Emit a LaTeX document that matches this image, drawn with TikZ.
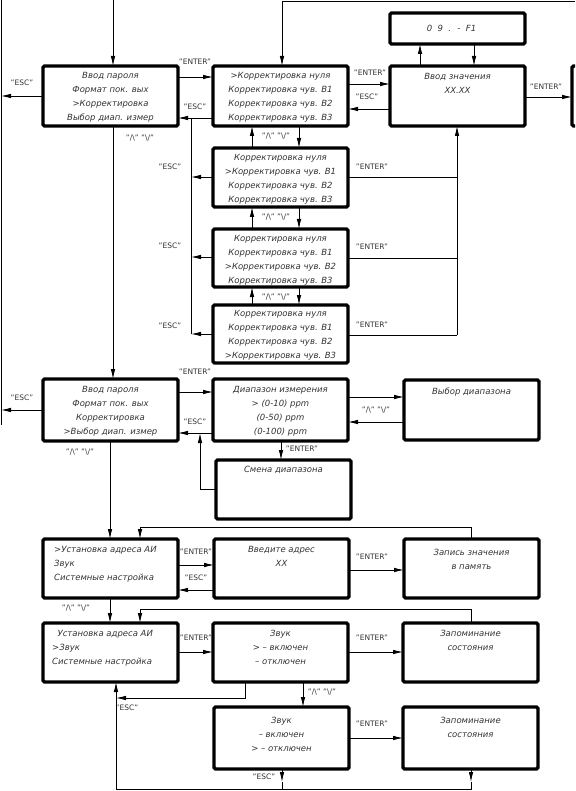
\documentclass[tikz,border=0pt]{standalone}
\usepackage{fontspec}
\setmainfont{DejaVu Sans}
\usetikzlibrary{arrows.meta}
\newcommand{\UDlbl}{"/\textbackslash" "\textbackslash/"}
\begin{document}
\begin{tikzpicture}[x=1pt,y=-1pt,
 box/.style={draw, line width=3.4pt, rounded corners=1.5pt, anchor=north west, inner sep=0pt, outer sep=0pt, minimum width=135pt, minimum height=60pt},
 txt/.style={font=\fontsize{8.5}{14}\selectfont\itshape, text=black!80, align=center, inner sep=0pt, anchor=north},
 ltxt/.style={txt, align=left, anchor=north west},
 lbl/.style={font=\fontsize{7.5}{9}\selectfont, text=black!80, inner sep=0pt},
 con/.style={line width=0.8pt},
 arr/.style={con, -{Latex[length=10pt,width=4.5pt]}},
]
\useasboundingbox (0,0) rectangle (575,791);
\clip (0,0) rectangle (575,791);
% ---------- boxes ----------
\node[box] (A) at (43,66) {};
\node[box] (B) at (213,66) {};
\node[box] (C) at (390,66) {};
\node[box, minimum height=31pt] (D) at (390,13) {};
\node[box, minimum width=40pt] (E) at (572,66) {};
\node[box, minimum height=59pt] (F) at (213,148) {};
\node[box, minimum height=58pt] (G) at (213,229) {};
\node[box, minimum height=58pt] (H) at (213,305) {};
\node[box, minimum height=62pt] (I) at (43,379) {};
\node[box, minimum height=62pt] (J) at (213,379) {};
\node[box] (K) at (404,380) {};
\node[box, minimum height=59pt] (L) at (216,460) {};
\node[box, minimum height=59pt] (M) at (43,539) {};
\node[box, minimum height=59pt] (N) at (214,539) {};
\node[box, minimum height=59pt] (O) at (404,539) {};
\node[box, minimum height=59pt] (P) at (43,623) {};
\node[box, minimum height=59pt] (Q) at (213,623) {};
\node[box, minimum height=59pt] (R) at (403,623) {};
\node[box, minimum height=62pt] (S) at (214,707) {};
\node[box, minimum height=62pt] (T) at (403,707) {};
% ---------- texts ----------
\node[txt] (At) at ([yshift=-6pt]A.north) {Ввод пароля\\Формат пок. вых\\>Корректировка\\Выбор диап. измер};
\node[txt] (Bt) at ([yshift=-6pt]B.north) {>Корректировка нуля\\Корректировка чув. В1\\Корректировка чув. В2\\Корректировка чув. В3};
\node[txt] (Ct) at ([yshift=-7pt]C.north) {Ввод значения\\XX.XX};
\node[txt, anchor=center] (Dt) at ([xshift=-6pt]D.center) {0 \ 9 \ . \ - \ F1};
\node[txt] (Ft) at ([yshift=-6pt]F.north) {Корректировка нуля\\>Корректировка чув. В1\\Корректировка чув. В2\\Корректировка чув. В3};
\node[txt] (Gt) at ([yshift=-6pt]G.north) {Корректировка нуля\\Корректировка чув. В1\\>Корректировка чув. В2\\Корректировка чув. В3};
\node[txt] (Ht) at ([yshift=-5pt]H.north) {Корректировка нуля\\Корректировка чув. В1\\Корректировка чув. В2\\>Корректировка чув. В3};
\node[txt] (It) at ([yshift=-7pt]I.north) {Ввод пароля\\Формат пок. вых\\Корректировка\\>Выбор диап. измер};
\node[txt] (Jt) at ([yshift=-7pt]J.north) {Диапазон измерения\\> (0-10) ppm\\(0-50) ppm\\(0-100) ppm};
\node[txt] (Kt) at ([yshift=-8pt]K.north) {Выбор диапазона};
\node[txt] (Lt) at ([yshift=-6pt]L.north) {Смена диапазона};
\node[ltxt] (Mt) at ([xshift=11pt,yshift=-7pt]M.north west) {>Установка адреса АИ\\Звук\\Системные настройка};
\node[txt] (Nt) at ([yshift=-7pt]N.north) {Введите адрес\\XX};
\node[txt] (Ot) at ([yshift=-10pt]O.north) {Запись значения\\в память};
\node[ltxt] (Pt) at ([xshift=9pt,yshift=-7pt]P.north west) {\ \ Установка адреса АИ\\>Звук\\ Системные настройка};
\node[txt] (Qt) at ([yshift=-7pt]Q.north) {Звук\\> – включен\\– отключен};
\node[txt] (Rt) at ([yshift=-7pt]R.north) {Запоминание\\состояния};
\node[txt] (St) at ([yshift=-10pt]S.north) {Звук\\– включен\\> – отключен};
\node[txt] (Tt) at ([yshift=-10pt]T.north) {Запоминание\\состояния};
% ---------- coordinates ----------
\coordinate (lbT) at (1,0);
\coordinate (lbB) at (1,425);
\coordinate (aT) at (113,0);
\coordinate (topR) at (575,1);
\coordinate (topB) at (282,1);
\coordinate (escT) at (191,118);
\coordinate (escB) at (191,334);
\coordinate (entT) at (457,127);
\coordinate (entB) at (457,335);
\coordinate (lRet) at (200,489);
\coordinate (oRet) at (471,527);
\coordinate (mRet) at (140,527);
\coordinate (rRet) at (471,609);
\coordinate (pRet) at (140,609);
\coordinate (qE) at (245,698);
\coordinate (pE) at (116,698);
\coordinate (bS) at (282,782);
\coordinate (bSe) at (282,789);
\coordinate (bT) at (471,782);
\coordinate (bTe) at (471,789);
\coordinate (bP) at (116,789);
% ---------- top section ----------
\draw[con] (lbT) -- (lbB);
\draw[arr] (A.west |- 0,96) -- (lbT |- 0,96);
\node[lbl] (l1) at (22,83) {"ESC"};
\draw[arr] (aT) -- (aT |- A.north);
\draw[arr] (topR) -- (topB) -- (topB |- B.north);
\draw[arr] (A.east |- 0,77) -- (B.west |- 0,77);
\node[lbl] (l2) at (195,62) {"ENTER"};
\draw[arr] (B.west |- 0,118) -- (A.east |- 0,118);
\node[lbl] (l3) at (195,107) {"ESC"};
\draw[con] (escT) -- (escB);
\draw[arr] (F.west |- 0,177) -- (escT |- 0,177);
\draw[arr] (G.west |- 0,257) -- (escT |- 0,257);
\draw[arr] (H.west |- 0,334) -- (escB);
\node[lbl] (l4) at (170,167) {"ESC"};
\node[lbl] (l5) at (170,246) {"ESC"};
\node[lbl] (l6) at (170,326) {"ESC"};
\draw[arr] (A.south -| aT) -- (I.north -| aT);
\node[lbl] (l7) at (140,138) {\UDlbl};
% B-F, F-G, G-H
\draw[arr] (F.north -| 252,0) -- (B.south -| 252,0);
\draw[arr] (B.south -| 299,0) -- (F.north -| 299,0);
\node[lbl] (l8) at (276,136) {\UDlbl};
\draw[arr] (G.north -| 252,0) -- (F.south -| 252,0);
\draw[arr] (F.south -| 299,0) -- (G.north -| 299,0);
\node[lbl] (l9) at (276,217) {\UDlbl};
\draw[arr] (H.north -| 252,0) -- (G.south -| 252,0);
\draw[arr] (G.south -| 299,0) -- (H.north -| 299,0);
\node[lbl] (l10) at (276,297) {\UDlbl};
% B-C
\draw[arr] (B.east |- 0,84) -- (C.west |- 0,84);
\node[lbl] (l11) at (370,73) {"ENTER"};
\draw[arr] (C.west |- 0,109) -- (B.east |- 0,109);
\node[lbl] (l12) at (367,97) {"ESC"};
% C-D
\draw[arr] (C.north -| 420,0) -- (D.south -| 420,0);
\draw[arr] (D.south -| 474,0) -- (C.north -| 474,0);
% C-E
\draw[arr] (C.east |- 0,97) -- (E.west |- 0,97);
\node[lbl] (l13) at (546,87) {"ENTER"};
% enter bus
\draw[arr] (entB) -- (entT |- C.south);
\draw[con] (F.east |- 0,177) -- (entT |- 0,177);
\draw[con] (G.east |- 0,258) -- (entT |- 0,258);
\draw[con] (H.east |- 0,335) -- (entB);
\node[lbl] (l14) at (372,167) {"ENTER"};
\node[lbl] (l15) at (372,247) {"ENTER"};
\node[lbl] (l16) at (372,325) {"ENTER"};
% ---------- middle section ----------
\draw[arr] (I.west |- 0,410) -- (lbT |- 0,410);
\node[lbl] (l17) at (22,398) {"ESC"};
\draw[arr] (I.east |- 0,392) -- (J.west |- 0,392);
\node[lbl] (l18) at (195,372) {"ENTER"};
\draw[arr] (J.west |- 0,433) -- (I.east |- 0,433);
\node[lbl] (l19) at (195,422) {"ESC"};
\draw[arr] (L.west |- lRet) -- (lRet) -- (lRet |- 0,433);
\draw[arr] (J.south -| 281,0) -- (L.north -| 281,0);
\node[lbl] (l20) at (302,449) {"ENTER"};
\draw[arr] (J.east |- 0,397) -- (K.west |- 0,397);
\draw[arr] (K.west |- 0,422) -- (J.east |- 0,422);
\node[lbl] (l21) at (376,410) {\UDlbl};
\draw[arr] (I.south -| 110,0) -- (M.north -| 110,0);
\node[lbl] (l22) at (80,452) {\UDlbl};
% ---------- bottom section ----------
\draw[arr] (M.east |- 0,565) -- (N.west |- 0,565);
\node[lbl] (l23) at (196,552) {"ENTER"};
\draw[arr] (N.west |- 0,590) -- (M.east |- 0,590);
\node[lbl] (l24) at (196,578) {"ESC"};
\draw[arr] (N.east |- 0,570) -- (O.west |- 0,570);
\node[lbl] (l25) at (372,557) {"ENTER"};
\draw[arr] (O.north -| oRet) -- (oRet) -- (mRet) -- (mRet |- M.north);
\draw[arr] (M.south -| 110,0) -- (P.north -| 110,0);
\node[lbl] (l26) at (76,608) {\UDlbl};
\draw[arr] (R.north -| rRet) -- (rRet) -- (pRet) -- (pRet |- P.north);
\draw[arr] (P.east |- 0,652) -- (Q.west |- 0,652);
\node[lbl] (l27) at (196,638) {"ENTER"};
\draw[arr] (Q.east |- 0,652) -- (R.west |- 0,652);
\node[lbl] (l28) at (372,638) {"ENTER"};
\draw[arr] (Q.south -| qE) -- (qE) -- (pE);
\node[lbl] (l29) at (127,708) {"ESC"};
\draw[arr] (Q.south -| 303,0) -- (S.north -| 303,0);
\node[lbl] (l30) at (322,692) {\UDlbl};
\draw[arr] (S.east |- 0,738) -- (T.west |- 0,738);
\node[lbl] (l31) at (372,724) {"ENTER"};
\draw[arr] (S.south -| bS) -- (bS);
\draw[con] (bS) -- (bSe);
\draw[arr] (T.south -| bT) -- (bT);
\draw[con] (bT) -- (bTe) -- (bP);
\draw[arr] (bP) -- (P.south -| bP);
\node[lbl] (l32) at (264,777) {"ESC"};
\end{tikzpicture}
\end{document}
